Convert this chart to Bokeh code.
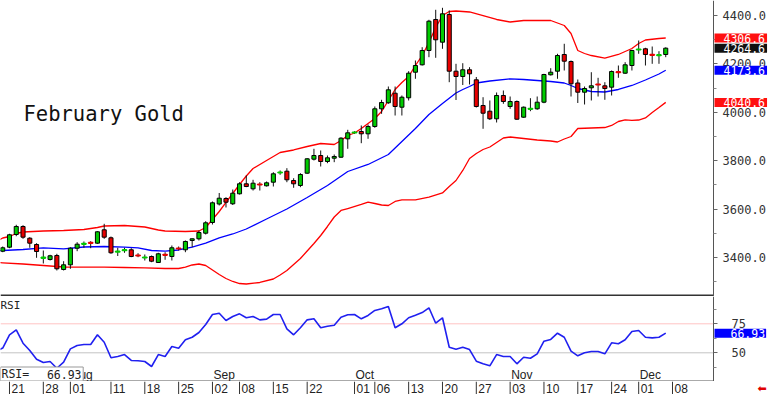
import numpy as np
import pandas as pd
from bokeh.plotting import figure
from bokeh.layouts import column
from bokeh.models import Range1d, FixedTicker, PrintfTickFormatter, Label, ColumnDataSource
from bokeh.core.properties import value
from bokeh.embed import file_html
from bokeh.resources import INLINE

# ---------------- data ----------------
title = "February Gold"
first_candle = "07-18"          # candles run on consecutive trading days from here

open_ = [3425.7, 3442.2, 3494.7, 3527.8, 3479.4, 3453.4, 3397.6, 3391.4, 3407.9, 3350.1,
         3369.5, 3438.1, 3455.5, 3460.8, 3458.8, 3514.1, 3481.1, 3422.8, 3429.0, 3431.5,
         3408.8, 3398.8, 3403.8, 3379.0, 3411.7, 3403.8, 3437.7, 3431.5, 3469.9, 3476.9,
         3500.1, 3544.3, 3620.7, 3643.5, 3621.6, 3662.9, 3704.2, 3683.5, 3702.1, 3695.9,
         3710.8, 3750.1, 3756.3, 3717.8, 3697.2, 3748.0, 3805.9, 3821.1, 3796.3, 3810.0,
         3814.1, 3890.1, 3915.3, 3920.3, 3910.8, 3941.0, 4014.1, 4038.9, 4078.6, 4020.7,
         4059.6, 4165.3, 4195.9, 4255.0, 4383.1, 4289.3, 4403.8, 4169.5, 4147.6, 4175.3,
         4133.9, 4027.7, 4004.2, 3972.8, 4069.1, 4023.6, 4044.3, 3979.4, 4013.3, 4014.1,
         4041.4, 4154.6, 4169.5, 4238.5, 4209.5, 4120.7, 4082.7, 4100.9, 4115.3, 4109.1,
         4103.4, 4166.2, 4161.2, 4193.0, 4258.3, 4262.0, 4238.1, 4234.8, 4238.5]
high = [3445.1, 3497.6, 3534.8, 3533.1, 3483.6, 3458.8, 3428.6, 3410.8, 3415.0, 3384.4,
        3442.2, 3462.9, 3465.8, 3467.0, 3508.3, 3538.9, 3486.4, 3439.8, 3439.8, 3438.1,
        3417.4, 3412.1, 3407.9, 3419.1, 3421.6, 3449.3, 3445.1, 3469.9, 3478.2, 3511.2,
        3549.7, 3631.1, 3666.2, 3648.8, 3680.6, 3710.8, 3738.5, 3720.7, 3710.8, 3713.7,
        3752.1, 3759.2, 3768.7, 3727.3, 3748.0, 3810.0, 3848.8, 3841.8, 3821.1, 3825.3,
        3896.8, 3927.3, 3921.5, 3945.1, 3949.2, 4023.6, 4051.3, 4106.2, 4106.2, 4069.1,
        4169.5, 4213.7, 4268.6, 4381.9, 4423.2, 4431.4, 4420.3, 4200.0, 4202.5, 4186.0,
        4145.5, 4062.0, 4048.4, 4081.5, 4089.7, 4064.9, 4048.4, 4023.6, 4057.9, 4064.9,
        4158.7, 4181.9, 4241.4, 4282.7, 4213.7, 4135.2, 4106.2, 4165.3, 4142.2, 4124.0,
        4172.4, 4193.0, 4206.7, 4257.9, 4296.3, 4266.2, 4271.5, 4252.1, 4268.0]
low = [3421.6, 3438.1, 3487.7, 3476.9, 3439.8, 3398.4, 3374.9, 3387.3, 3346.0, 3346.0,
       3353.0, 3425.7, 3439.8, 3438.1, 3456.3, 3476.9, 3415.0, 3405.9, 3419.1, 3400.9,
       3400.9, 3387.3, 3380.3, 3377.8, 3390.2, 3387.3, 3428.6, 3421.6, 3442.2, 3469.9,
       3494.7, 3536.0, 3614.5, 3606.3, 3616.6, 3660.0, 3690.2, 3676.5, 3676.5, 3693.0,
       3693.0, 3741.4, 3710.8, 3687.7, 3690.2, 3745.5, 3800.5, 3775.7, 3789.3, 3793.5,
       3811.6, 3848.8, 3910.8, 3872.0, 3890.1, 3935.6, 3993.4, 4034.8, 3986.4, 3986.4,
       4048.4, 4138.1, 4193.0, 4227.3, 4224.8, 4262.0, 4124.0, 4050.5, 4112.4, 4114.5,
       4019.5, 3931.5, 3967.8, 3957.5, 4034.8, 4014.1, 3968.7, 3976.9, 4004.2, 4010.0,
       4037.2, 4151.7, 4138.1, 4172.4, 4064.9, 4038.1, 4031.9, 4048.4, 4064.9, 4051.3,
       4069.1, 4142.2, 4158.7, 4172.4, 4241.4, 4193.0, 4200.0, 4200.0, 4227.3]
close = [3439.8, 3493.5, 3527.8, 3483.6, 3458.8, 3424.5, 3399.7, 3406.7, 3353.0, 3369.5,
         3438.1, 3454.6, 3457.1, 3459.6, 3505.9, 3483.6, 3419.1, 3424.5, 3430.7, 3403.8,
         3407.1, 3400.5, 3384.4, 3415.0, 3410.0, 3439.8, 3436.0, 3465.8, 3476.9, 3503.0,
         3543.1, 3625.7, 3644.7, 3628.2, 3665.4, 3704.2, 3693.0, 3706.7, 3700.5, 3708.3,
         3745.5, 3751.7, 3720.7, 3704.2, 3742.6, 3807.5, 3821.1, 3796.3, 3811.6, 3817.0,
         3892.6, 3914.9, 3917.0, 3910.8, 3941.0, 4014.1, 4040.1, 4092.6, 4023.6, 4062.0,
         4161.2, 4193.0, 4255.0, 4376.1, 4299.2, 4406.6, 4169.5, 4147.6, 4175.3, 4158.7,
         4023.6, 3995.9, 3972.8, 4069.1, 4044.3, 4044.3, 3971.1, 4020.7, 4014.9, 4041.4,
         4155.8, 4165.3, 4234.3, 4210.8, 4117.4, 4082.7, 4098.0, 4109.1, 4113.7, 4098.0,
         4168.2, 4164.5, 4195.9, 4255.0, 4260.0, 4238.5, 4236.4, 4236.4, 4264.6]

upper_dates = ["07-17", "07-18", "07-21", "07-22", "07-23", "07-28", "07-31", "08-05", "08-07", "08-08",
               "08-13", "08-18", "08-20", "08-21", "08-26", "08-28", "08-29", "09-02", "09-03", "09-04",
               "09-05", "09-08", "09-09", "09-10", "09-12", "09-16", "09-18", "09-22", "09-24", "09-26",
               "09-29", "09-30", "10-01", "10-02", "10-06", "10-07", "10-08", "10-09", "10-10", "10-13",
               "10-14", "10-15", "10-16", "10-17", "10-20", "10-21", "10-22", "10-24", "10-28", "10-30",
               "11-03", "11-05", "11-11", "11-13", "11-14", "11-17", "11-18", "11-19", "11-21", "11-25",
               "11-28", "12-01", "12-02", "12-04", "12-05"]
upper = [3465.8, 3480.2, 3486.4, 3498.8, 3505.0, 3509.2, 3511.2, 3515.4, 3523.6, 3529.8,
         3531.9, 3525.7, 3513.3, 3509.2, 3507.1, 3509.2, 3523.6, 3556.7, 3589.7, 3627.0,
         3664.1, 3701.3, 3736.4, 3767.4, 3800.5, 3833.5, 3843.9, 3858.3, 3870.7, 3866.6,
         3883.1, 3903.8, 3914.1, 3932.7, 3974.0, 4002.9, 4048.4, 4093.9, 4122.8, 4147.6,
         4193.0, 4234.3, 4288.1, 4350.0, 4399.6, 4416.1, 4418.2, 4414.1, 4399.6, 4383.1,
         4372.8, 4379.0, 4379.0, 4358.3, 4325.2, 4255.0, 4242.6, 4234.3, 4223.2, 4238.5,
         4263.3, 4283.9, 4298.4, 4304.6, 4306.6]

mid_dates = ["07-17", "07-18", "07-23", "07-28", "07-31", "08-05", "08-08", "08-13", "08-15", "08-19",
             "08-21", "08-25", "08-27", "08-29", "09-03", "09-05", "09-09", "09-12", "09-17", "09-22",
             "09-25", "09-30", "10-03", "10-08", "10-10", "10-14", "10-16", "10-20", "10-22", "10-23",
             "10-24", "10-27", "10-29", "11-03", "11-05", "11-07", "11-11", "11-13", "11-14", "11-17",
             "11-19", "11-21", "11-25", "11-28", "12-02", "12-04", "12-05"]
mid = [3426.5, 3428.6, 3432.7, 3439.8, 3435.6, 3443.1, 3445.1, 3442.2, 3439.8, 3428.6,
       3425.7, 3430.7, 3442.2, 3458.8, 3481.1, 3496.8, 3517.4, 3558.8, 3600.1, 3647.6,
       3697.2, 3755.0, 3784.0, 3825.3, 3879.0, 3932.7, 3990.6, 4036.0, 4079.4, 4093.9,
       4106.2, 4120.7, 4129.0, 4138.1, 4135.2, 4131.0, 4126.9, 4120.7, 4110.4, 4098.0,
       4085.6, 4083.5, 4093.9, 4110.4, 4133.1, 4157.9, 4173.6]

lower_dates = ["07-17", "07-18", "07-23", "07-28", "07-31", "08-05", "08-08", "08-13", "08-18", "08-21",
               "08-25", "08-26", "08-27", "08-28", "08-29", "09-02", "09-03", "09-04", "09-05", "09-08",
               "09-09", "09-11", "09-15", "09-16", "09-17", "09-18", "09-19", "09-22", "09-23", "09-24",
               "09-25", "09-26", "09-29", "09-30", "10-02", "10-03", "10-06", "10-07", "10-08", "10-09",
               "10-10", "10-14", "10-16", "10-20", "10-21", "10-22", "10-23", "10-24", "10-27", "10-28",
               "10-29", "10-30", "10-31", "11-03", "11-05", "11-07", "11-11", "11-12", "11-13", "11-14",
               "11-17", "11-19", "11-21", "11-24", "11-25", "11-26", "11-28", "12-01", "12-02", "12-03",
               "12-04", "12-05"]
lower = [3379.0, 3377.8, 3372.8, 3366.6, 3360.4, 3359.6, 3359.6, 3358.4, 3357.1, 3354.2,
         3354.2, 3359.6, 3368.7, 3372.8, 3366.6, 3348.0, 3329.4, 3312.9, 3300.5, 3292.2,
         3290.2, 3296.4, 3310.8, 3327.4, 3346.0, 3370.8, 3395.5, 3426.5, 3457.5, 3490.6,
         3527.8, 3567.0, 3593.9, 3602.1, 3618.7, 3628.2, 3622.8, 3616.6, 3614.5, 3631.1,
         3638.1, 3638.1, 3648.8, 3666.2, 3693.0, 3717.8, 3759.2, 3808.7, 3829.4, 3845.9,
         3856.3, 3874.9, 3893.4, 3897.6, 3891.4, 3885.2, 3881.1, 3876.9, 3889.3, 3899.6,
         3932.7, 3934.8, 3936.8, 3945.1, 3961.6, 3968.7, 3966.6, 3967.8, 3976.1, 3998.8,
         4019.5, 4040.6]

rsi_start = "07-17"
rsi = [51.1, 54.1, 65.5, 69.8, 58.3, 52.0, 44.5, 41.6, 42.5, 36.7,
       41.9, 53.4, 56.3, 57.2, 57.2, 65.5, 59.1, 45.7, 46.8, 48.5,
       43.4, 43.1, 42.5, 38.2, 48.5, 46.8, 55.4, 54.0, 61.2, 63.4,
       67.5, 74.4, 83.0, 84.1, 77.8, 81.3, 83.6, 80.2, 81.3, 78.4,
       79.0, 83.0, 83.0, 70.7, 65.5, 71.6, 78.4, 79.3, 71.6, 72.9,
       73.8, 80.7, 82.8, 83.0, 79.3, 82.2, 86.5, 87.9, 89.9, 71.6,
       75.0, 80.2, 82.4, 84.7, 88.8, 75.5, 80.2, 54.8, 53.1, 54.8,
       52.8, 42.8, 40.5, 38.8, 48.5, 46.8, 46.8, 40.5, 46.2, 45.3,
       49.1, 60.0, 61.5, 66.9, 63.4, 51.4, 47.4, 50.0, 51.1, 51.1,
       49.1, 58.6, 57.8, 61.2, 68.4, 69.2, 63.4, 62.9, 63.4, 66.93]

tick_dates = ["07-21", "07-28", "08-01", "08-11", "08-18", "08-25", "09-02", "09-08", "09-15", "09-22",
              "10-01", "10-06", "10-13", "10-20", "10-27", "11-03", "11-10", "11-17", "11-24", "12-01", "12-08"]
month_dates = ["08-01", "09-02", "10-01", "11-03", "12-01"]
month_names = ["Aug", "Sep", "Oct", "Nov", "Dec"]
price_ticks = [3400, 3600, 3800, 4000, 4200, 4400]
price_minor = [3300, 3500, 3700, 3900, 4100, 4300]
rsi_ticks = [50, 75]
rsi_minor = [37.5, 62.5, 87.5]
rsi_levels = [75, 50]

# ---------------- trading calendar ----------------
holidays = {"2025-09-01", "2025-11-27", "2025-12-25"}
cal = [d for d in pd.bdate_range("2025-07-17", "2025-12-31") if d.strftime("%Y-%m-%d") not in holidays]
pos = {d.strftime("%m-%d"): i for i, d in enumerate(cal)}

# ---------------- styles / layout ----------------
GREEN, RED, BLUE = "#00cc00", "#e80000", "#0000ff"
MONO, SANS = "DejaVu Sans Mono", "Liberation Sans"
W = 768
PH, RH, SH = 296, 85, 13
X0, X1 = 0.67, 114.19          # visible trading-day window
XA = 106.07                    # where the price / RSI scale is drawn
xr = Range1d(X0, X1)
p_lo, p_hi = 3238.5, 4461.6
r_lo, r_hi = 25.26, 98.53


def base(h, yr, yloc):
    f = figure(width=W, height=h, x_range=xr, y_range=yr, output_backend="svg",
               toolbar_location=None, x_axis_location=None, y_axis_location=yloc,
               min_border_left=0, min_border_right=0, min_border_top=0, min_border_bottom=0,
               outline_line_color=None, background_fill_color="white", border_fill_color="white")
    f.grid.visible = False
    return f


def style_axis(ax, standoff):
    ax.fixed_location = XA
    ax.major_label_text_font = MONO
    ax.major_label_text_font_size = "12px"
    ax.major_label_text_color = "#333333"
    ax.major_tick_out = 4
    ax.major_tick_in = 0
    ax.minor_tick_out = 3
    ax.minor_tick_in = 0
    ax.major_tick_line_color = "#666666"
    ax.minor_tick_line_color = "#888888"
    ax.axis_line_color = "#555555"
    ax.major_label_standoff = standoff


def hline(f, y, color, width):
    f.segment(x0=[X0], y0=[y], x1=[XA], y1=[y], line_color=color, line_width=width)


# ---------------- price panel ----------------
pp = base(PH, Range1d(p_lo, p_hi), "right")
ya = pp.yaxis[0]
ya.ticker = FixedTicker(ticks=price_ticks, minor_ticks=price_minor)
ya.formatter = PrintfTickFormatter(format="%.1f")
style_axis(ya, 5)

pp.line([pos[d] for d in upper_dates], upper, line_color="#ff0000", line_width=1.3)
pp.line([pos[d] for d in lower_dates], lower, line_color="#ff0000", line_width=1.3)
pp.line([pos[d] for d in mid_dates], mid, line_color=BLUE, line_width=1.3)

o = np.array(open_)
c = np.array(close)
cx = pos[first_candle] + np.arange(len(close))
up = c >= o
doji = np.abs(c - o) < 3
fill = np.where(up, GREEN, RED)
src = ColumnDataSource(dict(
    x=cx, high=high, low=low, top=np.maximum(o, c), bottom=np.minimum(o, c),
    fill=list(fill), edge=list(np.where(doji, fill, "#000000")),
    lw=list(np.where(doji, 1.8, 1.0)),
))
pp.segment(x0="x", y0="low", x1="x", y1="high", source=src, line_color="#111111", line_width=1)
pp.vbar(x="x", top="top", bottom="bottom", width=0.6, source=src,
        fill_color="fill", line_color="edge", line_width="lw")

hline(pp, p_lo + (p_hi - p_lo) / PH, "#333333", 2)

pp.add_layout(Label(x=23, y=183, x_units="screen", y_units="screen", text=title,
                    text_font=MONO, text_font_size="20.5px", text_color="#111111",
                    text_baseline="alphabetic"))

for val, col in [(upper[-1], "#ff1010"), (close[-1], "#111111"), (mid[-1], BLUE), (lower[-1], "#ff1010")]:
    pp.add_layout(Label(x=714, y=val, x_units="screen", y_units="data", text=f"{val:.1f}",
                        text_font=MONO, text_font_size="11.5px", text_color="white",
                        text_baseline="middle", text_align="left",
                        background_fill_color=col,
                        padding=dict(left=9, right=2, top=0, bottom=0)))

# ---------------- RSI panel ----------------
rp = base(RH, Range1d(r_lo, r_hi), "right")
ra = rp.yaxis[0]
ra.ticker = FixedTicker(ticks=rsi_ticks, minor_ticks=rsi_minor)
style_axis(ra, 14)

for lv, col in zip(rsi_levels, ["#ffc4c4", "#c4c4c4"]):
    hline(rp, lv, col, 1)
hline(rp, r_lo + 0.5 * (r_hi - r_lo) / RH, "#555555", 1)

rx = pos[rsi_start] + np.arange(len(rsi))
rp.line(rx, rsi, line_color="#2020f0", line_width=1.6)

rp.text(x=[pos[d] for d in month_dates], y=[r_lo] * len(month_dates), text=month_names,
        x_offset=1, text_align="left", text_baseline="bottom",
        text_font=value(SANS), text_font_size="12px", text_color="#222222")

rp.add_layout(Label(x=0, y=RH - 2, x_units="screen", y_units="screen", text="RSI",
                    text_font=MONO, text_font_size="11px", text_color="#222222",
                    text_baseline="top"))
rp.add_layout(Label(x=0, y=7.5, x_units="screen", y_units="screen", text="RSI=",
                    text_font=MONO, text_font_size="11.5px", text_color="#222222",
                    text_baseline="middle", text_align="left",
                    background_fill_color="white", border_line_color="#999999",
                    padding=dict(left=1, right=54, top=0, bottom=0)))
rp.add_layout(Label(x=81, y=7.5, x_units="screen", y_units="screen", text=f"{rsi[-1]:.2f}",
                    text_font=MONO, text_font_size="11.5px", text_color="#222222",
                    text_baseline="middle", text_align="right"))
rp.add_layout(Label(x=714, y=rsi[-1], x_units="screen", y_units="data", text=f"{rsi[-1]:.2f}",
                    text_font=MONO, text_font_size="11.5px", text_color="white",
                    text_baseline="middle", text_align="left", background_fill_color=BLUE,
                    padding=dict(left=16, right=1, top=0, bottom=0)))

# ---------------- date strip ----------------
sp = base(SH, Range1d(0, SH), None)
tx = [pos[d] for d in tick_dates]
sp.segment(x0=tx, y0=[0] * len(tx), x1=tx, y1=[SH] * len(tx), line_color="#333333", line_width=1)
sp.text(x=tx, y=[SH / 2] * len(tx), text=[d[-2:] for d in tick_dates], x_offset=2,
        text_align="left", text_baseline="middle",
        text_font=value(SANS), text_font_size="12px", text_color="#222222")
sp.add_layout(Label(x=757, y=SH / 2, x_units="screen", y_units="screen", text="\u2b05",
                    text_font="DejaVu Sans", text_font_size="11px", text_color="#e00000",
                    text_baseline="middle", text_align="left"))

layout = column(pp, rp, sp, spacing=0)
open("out.html", "w").write(file_html(layout, INLINE, title))
